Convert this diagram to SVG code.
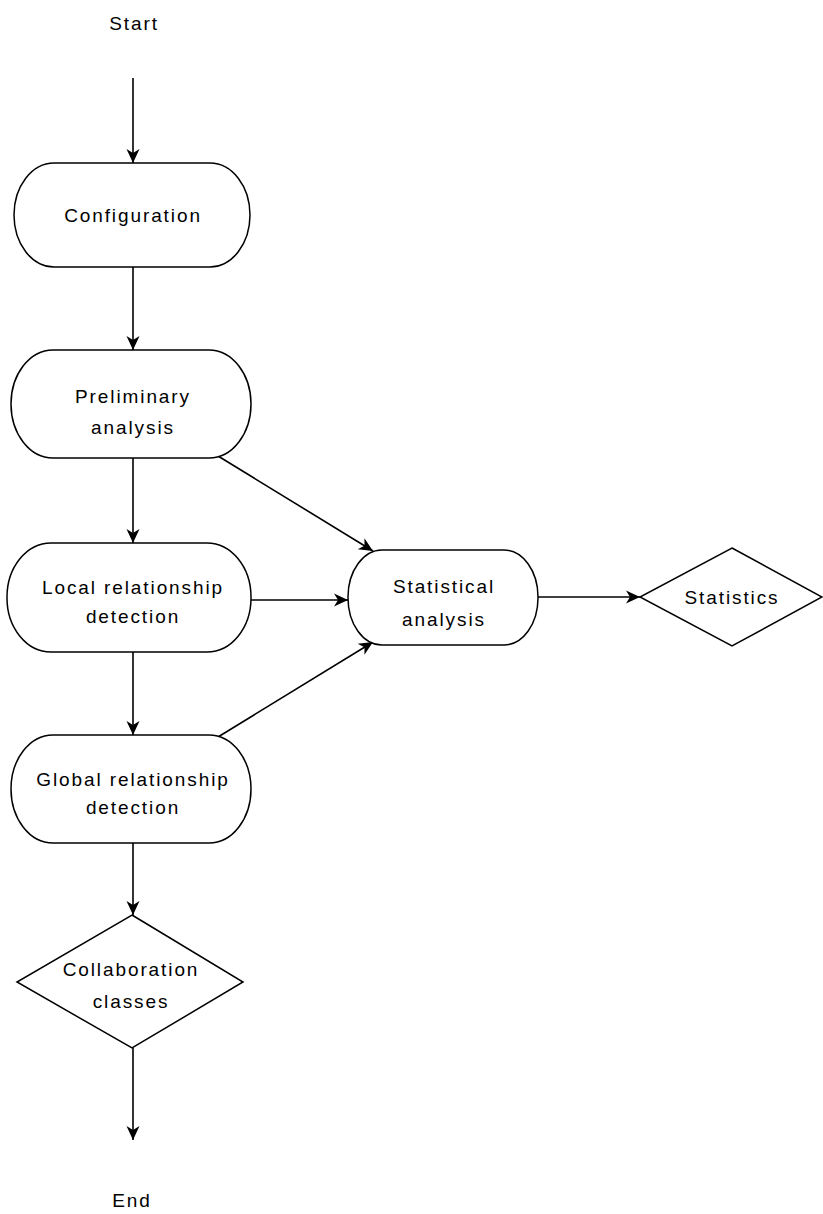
<svg xmlns="http://www.w3.org/2000/svg" width="823" height="1214" viewBox="0 0 823 1214">
<defs>
<marker id="arr" markerUnits="userSpaceOnUse" markerWidth="16" markerHeight="16" viewBox="0 0 16 16" refX="15" refY="8" orient="auto">
<path d="M1,1.5 L15,8 L1,14.5 L5,8 Z" fill="#000"/>
</marker>
<style>
.n{fill:#fff;stroke:#000;stroke-width:1.5}
.t{font-family:"Liberation Sans",Arial,sans-serif;font-size:19px;letter-spacing:1.9px;fill:#000;text-anchor:middle}
.c{fill:none;stroke:#000;stroke-width:1.6;marker-end:url(#arr)}
</style>
</defs>
<rect width="823" height="1214" fill="#fff"/>
<g id="connectors">
<line class="c" x1="133" y1="78" x2="133" y2="163"/>
<line class="c" x1="133" y1="267" x2="133" y2="350"/>
<line class="c" x1="133" y1="458" x2="133" y2="543"/>
<line class="c" x1="133" y1="652" x2="133" y2="735"/>
<line class="c" x1="133" y1="843" x2="133" y2="915"/>
<line class="c" x1="133" y1="1048" x2="133" y2="1140"/>
<line class="c" x1="218" y1="456" x2="373" y2="551"/>
<line class="c" x1="251" y1="600" x2="348" y2="600"/>
<line class="c" x1="218" y1="737" x2="373" y2="642"/>
<line class="c" x1="538" y1="597" x2="640" y2="597"/>
</g>
<g id="start"><text class="t" x="134" y="30">Start</text></g>
<g id="configuration">
<rect class="n" x="14" y="163" width="236" height="104" rx="40" ry="52"/>
<text class="t" x="133" y="222">Configuration</text>
</g>
<g id="preliminary">
<rect class="n" x="11" y="350" width="240" height="108" rx="42" ry="54"/>
<text class="t" x="133" y="403">Preliminary</text>
<text class="t" x="133" y="434">analysis</text>
</g>
<g id="local">
<rect class="n" x="7" y="543" width="244" height="109" rx="44" ry="54"/>
<text class="t" x="133" y="594">Local relationship</text>
<text class="t" x="133" y="623">detection</text>
</g>
<g id="global">
<rect class="n" x="11" y="735" width="240" height="108" rx="42" ry="54"/>
<text class="t" x="133" y="786">Global relationship</text>
<text class="t" x="133" y="814">detection</text>
</g>
<g id="statistical">
<rect class="n" x="348" y="550" width="190" height="95" rx="34" ry="47"/>
<text class="t" x="444" y="593">Statistical</text>
<text class="t" x="444" y="626">analysis</text>
</g>
<g id="statistics">
<polygon class="n" points="732,548 822,597 732,646 640,597"/>
<text class="t" x="732" y="604">Statistics</text>
</g>
<g id="collaboration">
<polygon class="n" points="132,915 243,982 132,1048 17,982"/>
<text class="t" x="131" y="976">Collaboration</text>
<text class="t" x="131" y="1008">classes</text>
</g>
<g id="end"><text class="t" x="132" y="1207">End</text></g>
</svg>
